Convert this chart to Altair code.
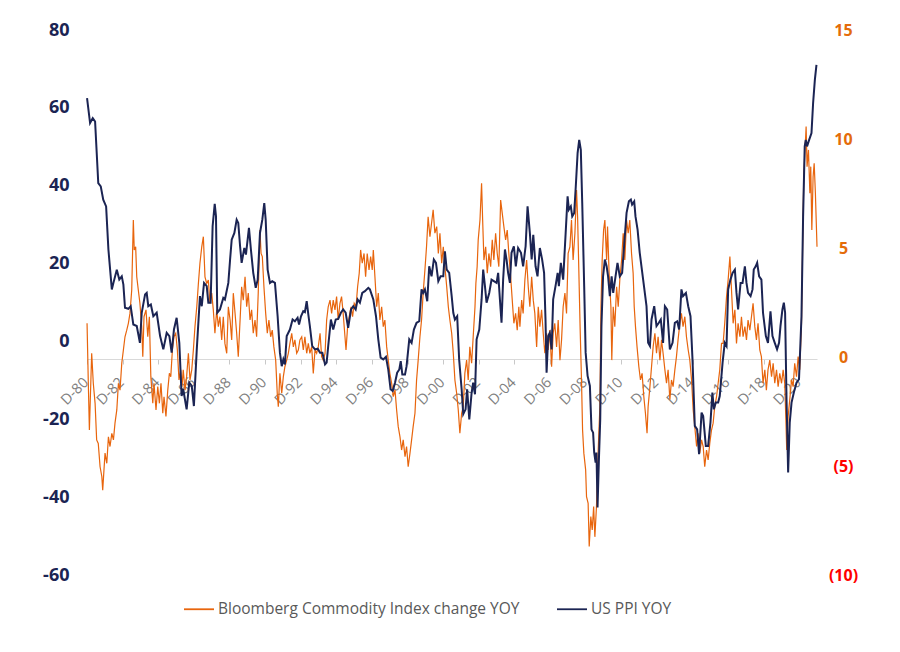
import altair as alt
import pandas as pd

SER_B = "Bloomberg Commodity Index change YOY"
SER_P = "US PPI YOY"
ORANGE = "#E8650D"
NAVY = "#1B2453"

# (decimal year, Bloomberg Commodity Index YoY %) - left axis
bcom_points = [
(1980.92,4.65),(1980.99,-10.75),(1981.05,-22.75),(1981.18,-3.05),(1981.27,-10.75),(1981.37,-15.9),(1981.46,-25.3),(1981.55,-26.2),(1981.65,-32.2),(1981.75,-34.7),(1981.80,-38.2),(1981.87,-33.0),(1981.93,-28.7),
(1982.03,-31.3),(1982.12,-24.5),(1982.21,-27.0),(1982.31,-23.6),(1982.40,-25.3),(1982.49,-21.0),(1982.59,-17.6),(1982.68,-10.75),(1982.77,-12.5),(1982.87,-5.6),(1982.96,-2.2),
(1983.05,1.2),(1983.15,2.9),(1983.24,4.65),(1983.33,7.2),(1983.43,13.2),(1983.52,31.2),(1983.57,23.5),(1983.65,24.3),(1983.71,16.6),(1983.80,13.2),(1983.89,9.8),(1983.99,3.8),
(1984.05,-3.9),(1984.12,6.35),(1984.23,8.1),(1984.33,1.2),(1984.42,6.35),(1984.50,-9.05),(1984.61,-15.9),(1984.68,-10.75),(1984.79,-17.6),(1984.89,-11.6),(1984.98,-15.9),
(1985.07,-10.75),(1985.17,-18.45),(1985.24,-14.2),(1985.35,-19.3),(1985.45,-12.5),(1985.54,-8.2),(1985.62,-9.05),(1985.71,-2.2),(1985.80,1.2),(1985.90,2.1),(1985.99,-2.2),
(1986.08,-9.9),(1986.18,-7.3),(1986.25,-11.6),(1986.32,-7.3),(1986.42,-12.5),(1986.51,-9.05),(1986.61,-3.05),(1986.70,-9.9),(1986.80,-7.3),(1986.89,-2.2),(1986.98,3.8),
(1987.08,8.9),(1987.17,14.9),(1987.26,20.1),(1987.36,24.3),(1987.45,26.9),(1987.54,16.6),(1987.64,14.9),(1987.73,15.8),(1987.82,9.8),(1987.92,12.4),
(1988.01,8.1),(1988.10,2.1),(1988.20,8.1),(1988.29,3.8),(1988.38,6.35),(1988.48,0.4),(1988.57,6.35),(1988.66,-0.5),(1988.76,-3.05),(1988.85,8.9),(1988.95,5.5),
(1989.04,0.4),(1989.13,12.4),(1989.23,7.2),(1989.32,2.1),(1989.41,-3.9),(1989.51,5.5),(1989.60,14.05),(1989.69,10.6),(1989.79,16.6),(1989.88,8.9),(1989.97,12.4),
(1990.07,5.5),(1990.16,8.1),(1990.25,2.1),(1990.35,5.5),(1990.44,1.2),(1990.53,12.4),(1990.63,28.6),(1990.69,22.6),(1990.76,21.8),(1990.85,14.05),(1990.95,7.2),
(1991.04,2.1),(1991.13,5.5),(1991.23,1.2),(1991.32,2.9),(1991.41,-1.4),(1991.51,-4.8),(1991.60,-13.3),(1991.66,-16.75),(1991.75,-8.2),(1991.85,-13.3),(1991.94,-9.05),
(1992.03,-6.5),(1992.13,-4.8),(1992.22,-3.05),(1992.31,-0.5),(1992.41,2.1),(1992.50,-1.4),(1992.59,0.4),(1992.69,-3.05),(1992.78,-2.2),(1992.87,0.4),(1992.97,1.2),
(1993.06,-2.2),(1993.15,1.2),(1993.25,-3.05),(1993.34,-0.5),(1993.43,-3.05),(1993.53,-1.4),(1993.62,-8.2),(1993.72,-2.2),(1993.81,-3.05),(1993.90,-1.4),
(1994.00,2.1),(1994.09,-3.9),(1994.18,-4.8),(1994.28,-3.05),(1994.37,5.5),(1994.46,8.9),(1994.56,10.6),(1994.65,7.2),(1994.74,10.6),(1994.84,8.1),(1994.93,11.5),
(1995.02,5.5),(1995.12,9.8),(1995.21,11.5),(1995.30,7.2),(1995.40,1.2),(1995.46,-2.2),(1995.55,3.8),(1995.64,6.35),(1995.74,8.9),(1995.83,6.35),(1995.92,9.8),
(1996.02,8.9),(1996.11,14.05),(1996.20,17.5),(1996.28,23.5),(1996.37,20.1),(1996.47,22.6),(1996.56,16.6),(1996.65,22.6),(1996.75,18.35),(1996.84,21.8),(1996.93,18.35),(1996.99,23.5),
(1997.08,16.6),(1997.18,8.9),(1997.27,12.4),(1997.36,5.5),(1997.46,8.9),(1997.55,3.8),(1997.64,5.5),(1997.74,-1.4),(1997.83,-4.8),(1997.92,-8.2),
(1998.02,-10.75),(1998.11,-14.2),(1998.21,-12.5),(1998.30,-17.6),(1998.39,-21.9),(1998.49,-24.5),(1998.58,-27.9),(1998.67,-25.3),(1998.77,-29.6),(1998.86,-27.0),(1998.95,-32.2),
(1999.05,-28.7),(1999.14,-25.3),(1999.23,-21.9),(1999.33,-18.45),(1999.42,-9.9),(1999.51,-4.8),(1999.61,1.2),(1999.70,5.5),(1999.79,12.4),(1999.89,18.35),(1999.98,24.3),
(2000.07,32.0),(2000.17,26.9),(2000.26,30.35),(2000.35,33.8),(2000.45,27.8),(2000.55,29.5),(2000.64,22.6),(2000.73,27.8),(2000.83,20.1),(2000.92,24.3),
(2001.01,19.2),(2001.11,14.05),(2001.20,8.9),(2001.29,5.5),(2001.39,2.1),(2001.48,-3.05),(2001.57,-9.9),(2001.67,-13.3),(2001.76,-17.6),(2001.85,-23.6),(2001.95,-18.45),
(2002.04,-16.75),(2002.13,-8.2),(2002.23,-4.8),(2002.32,-9.9),(2002.41,-1.4),(2002.51,-5.6),(2002.60,1.2),(2002.70,8.9),(2002.75,14.9),(2002.82,19.2),(2002.88,26.1),(2002.98,31.2),
(2003.07,40.6),(2003.13,31.2),(2003.20,20.9),(2003.30,24.3),(2003.39,17.5),(2003.48,22.6),(2003.58,19.2),(2003.67,26.1),(2003.76,20.9),(2003.86,27.8),(2003.95,22.6),
(2004.04,19.2),(2004.14,36.3),(2004.23,32.9),(2004.32,29.5),(2004.42,26.1),(2004.51,28.6),(2004.60,22.6),(2004.70,16.6),(2004.79,10.6),(2004.88,4.65),(2004.98,7.2),
(2005.07,2.9),(2005.16,8.9),(2005.22,3.8),(2005.32,10.6),(2005.40,7.2),(2005.50,15.8),(2005.60,20.9),(2005.69,14.05),(2005.78,8.9),(2005.88,16.6),(2005.97,10.6),
(2006.06,7.2),(2006.16,-1.4),(2006.25,8.9),(2006.34,3.8),(2006.44,8.1),(2006.53,2.1),(2006.62,-3.05),(2006.72,2.1),(2006.81,-2.2),(2006.90,2.9),
(2007.00,-6.5),(2007.09,2.1),(2007.18,4.65),(2007.28,-1.4),(2007.37,5.5),(2007.47,-4.8),(2007.56,0.4),(2007.65,8.9),(2007.75,12.4),(2007.84,7.2),(2007.93,22.6),
(2008.03,24.3),(2008.12,31.2),(2008.21,20.9),(2008.31,27.8),(2008.40,38.9),(2008.46,32.0),(2008.53,18.35),(2008.60,3.8),(2008.68,-9.9),(2008.74,-22.75),(2008.81,-28.7),(2008.91,-33.0),(2008.96,-39.9),
(2009.05,-41.6),(2009.11,-52.7),(2009.20,-45.0),(2009.28,-48.4),(2009.36,-42.4),(2009.43,-50.2),(2009.52,-42.4),(2009.61,-28.7),(2009.71,-16.75),(2009.77,8.9),(2009.84,20.9),(2009.92,28.6),(2009.99,31.2),
(2010.09,20.9),(2010.14,29.5),(2010.23,17.5),(2010.33,8.9),(2010.38,-4.8),(2010.46,8.9),(2010.55,3.8),(2010.65,14.05),(2010.74,8.9),(2010.83,15.8),(2010.93,20.9),
(2011.02,27.8),(2011.11,20.9),(2011.21,31.2),(2011.30,27.8),(2011.39,31.2),(2011.49,22.6),(2011.58,17.5),(2011.64,8.9),(2011.71,3.8),(2011.80,-1.4),(2011.90,-6.5),(2011.99,-9.9),
(2012.08,-8.2),(2012.18,-14.2),(2012.27,-18.45),(2012.36,-23.6),(2012.42,-16.75),(2012.52,-11.6),(2012.61,-6.5),(2012.70,-1.4),(2012.80,2.1),(2012.89,-3.05),(2012.98,1.2),
(2013.08,-4.8),(2013.17,0.4),(2013.26,-3.05),(2013.36,-7.3),(2013.45,-10.75),(2013.54,-7.3),(2013.64,-15.0),(2013.73,-9.9),(2013.82,-11.6),(2013.92,-7.3),
(2014.01,-3.9),(2014.10,0.4),(2014.20,4.65),(2014.29,7.2),(2014.38,3.8),(2014.48,6.35),(2014.57,1.2),(2014.67,-2.2),(2014.76,-4.8),(2014.86,-9.9),(2014.95,-17.6),
(2015.04,-21.9),(2015.14,-27.0),(2015.23,-23.6),(2015.32,-28.7),(2015.42,-25.3),(2015.51,-27.0),(2015.60,-32.2),(2015.70,-27.9),(2015.79,-30.45),(2015.88,-26.2),(2015.98,-22.75),
(2016.07,-21.0),(2016.16,-16.75),(2016.26,-14.2),(2016.35,-10.75),(2016.44,-7.3),(2016.54,-0.5),(2016.63,-0.5),(2016.72,4.65),(2016.82,11.5),(2016.91,15.8),
(2017.01,21.8),(2017.10,13.2),(2017.19,4.65),(2017.29,8.1),(2017.38,-0.5),(2017.47,4.65),(2017.57,1.2),(2017.66,6.35),(2017.75,1.2),(2017.85,3.8),(2017.94,0.4),
(2018.03,5.5),(2018.13,2.9),(2018.22,6.35),(2018.31,9.8),(2018.41,3.8),(2018.50,0.4),(2018.59,4.65),(2018.69,-2.2),(2018.78,-3.9),(2018.87,-10.75),(2018.97,-7.3),
(2019.06,-12.5),(2019.15,-7.3),(2019.25,-4.8),(2019.35,-9.05),(2019.44,-5.6),(2019.53,-10.75),(2019.63,-7.3),(2019.72,-11.6),(2019.81,-8.2),(2019.91,-10.75),
(2020.00,-7.3),(2020.09,-10.75),(2020.15,-19.3),(2020.20,-27.9),(2020.28,-19.3),(2020.37,-15.0),(2020.47,-9.9),(2020.56,-11.6),(2020.65,-5.6),(2020.75,-9.05),(2020.84,-3.9),(2020.93,-7.3),
(2021.03,4.65),(2021.09,23.5),(2021.16,43.2),(2021.23,49.2),(2021.29,55.2),(2021.34,44.9),(2021.42,49.2),(2021.50,38.05),(2021.55,44.9),(2021.61,28.6),(2021.68,42.3),(2021.74,45.75),(2021.81,38.05),(2021.90,24.3),
]

# (decimal year, US PPI YoY %) - right axis
ppi_points = [
(1980.92,11.87),(1981.09,10.73),(1981.24,10.96),(1981.37,10.8),(1981.55,7.98),(1981.69,7.83),(1981.83,7.22),(1981.99,6.91),
(1982.12,4.93),(1982.31,3.1),(1982.40,3.4),(1982.59,4.0),(1982.73,3.55),(1982.87,3.7),(1982.96,3.32),
(1983.05,2.26),(1983.24,2.21),(1983.37,2.33),(1983.52,1.49),(1983.71,1.42),(1983.89,0.65),(1983.99,2.03),
(1984.18,2.87),(1984.27,2.94),(1984.36,2.33),(1984.50,2.41),(1984.64,1.87),(1984.83,2.03),
(1985.02,0.96),(1985.20,0.35),(1985.39,1.11),(1985.54,0.96),(1985.67,0.2),(1985.80,1.26),(1985.95,1.8),
(1986.10,0.65),(1986.23,-1.79),(1986.32,-1.48),(1986.51,-2.4),(1986.66,-1.18),(1986.80,-1.33),(1986.92,-2.25),
(1987.08,0.35),(1987.26,2.79),(1987.36,2.33),(1987.49,3.4),(1987.64,3.25),(1987.73,2.49),(1987.86,2.49),(1987.97,6.0),
(1988.09,7.03),(1988.16,6.45),(1988.23,2.03),(1988.38,2.18),(1988.57,2.71),(1988.66,2.64),(1988.85,3.4),(1988.95,4.47),
(1989.04,5.38),(1989.19,5.69),(1989.32,6.3),(1989.41,6.15),(1989.51,5.08),(1989.60,4.32),(1989.75,5.0),(1989.84,4.7),
(1990.01,5.92),(1990.12,4.93),(1990.25,3.86),(1990.39,3.17),(1990.50,3.55),(1990.63,5.69),(1990.76,6.3),(1990.87,7.06),(1990.95,6.3),
(1991.06,4.01),(1991.19,3.4),(1991.32,3.48),(1991.47,3.4),(1991.62,1.87),(1991.75,0.2),(1991.85,-0.42),(1991.94,-0.11),
(1992.03,-0.34),(1992.13,0.96),(1992.31,1.26),(1992.46,1.72),(1992.59,1.64),(1992.74,1.8),(1992.82,1.49),(1992.93,1.87),
(1993.06,2.1),(1993.15,2.06),(1993.25,2.56),(1993.34,1.95),(1993.43,1.42),(1993.56,0.5),(1993.72,0.35),(1993.87,0.38),
(1994.00,0.2),(1994.13,0.2),(1994.28,-0.34),(1994.37,-0.26),(1994.46,0.5),(1994.61,1.72),(1994.74,1.26),(1994.88,1.72),
(1995.02,1.75),(1995.17,2.03),(1995.30,2.18),(1995.44,2.03),(1995.58,1.34),(1995.74,2.18),(1995.87,2.33),
(1996.00,2.18),(1996.11,2.64),(1996.24,2.49),(1996.37,2.94),(1996.52,3.02),(1996.71,3.17),(1996.80,3.1),(1996.99,2.64),
(1997.14,1.87),(1997.27,0.81),(1997.40,-0.03),(1997.55,-0.11),(1997.70,0.01),(1997.83,-0.57),(1997.96,-1.48),
(1998.08,-1.56),(1998.21,-1.18),(1998.33,-0.72),(1998.45,-0.57),(1998.53,-0.19),(1998.62,-0.8),(1998.77,-0.8),(1998.86,-0.42),
(1999.01,0.81),(1999.14,0.65),(1999.27,1.26),(1999.42,1.57),(1999.57,1.64),(1999.70,3.1),(1999.79,2.94),(1999.89,3.1),
(2000.02,2.56),(2000.13,4.16),(2000.26,3.7),(2000.39,4.47),(2000.51,4.32),(2000.64,3.48),(2000.77,3.7),(2000.92,3.7),
(2001.01,4.85),(2001.11,4.01),(2001.25,3.86),(2001.39,2.79),(2001.48,2.03),(2001.57,1.72),(2001.70,1.87),(2001.81,-0.11),(2001.95,-1.48),
(2002.04,-2.62),(2002.17,-2.4),(2002.26,-1.48),(2002.38,-2.86),(2002.51,-1.63),(2002.60,-1.18),(2002.70,-1.71),(2002.79,0.81),(2002.94,1.26),
(2003.07,2.64),(2003.16,4.01),(2003.26,3.25),(2003.35,2.49),(2003.50,2.94),(2003.63,3.55),(2003.76,3.48),(2003.91,3.4),
(2004.00,3.86),(2004.10,2.64),(2004.19,1.57),(2004.28,3.55),(2004.38,4.93),(2004.47,4.47),(2004.56,3.86),(2004.66,3.4),(2004.75,4.78),(2004.88,5.08),(2004.99,4.16),
(2005.12,5.0),(2005.28,4.78),(2005.40,4.16),(2005.54,5.08),(2005.65,6.91),(2005.78,5.69),(2005.88,4.47),(2005.97,5.61),
(2006.10,4.16),(2006.21,3.7),(2006.34,5.0),(2006.47,4.47),(2006.58,3.86),(2006.66,1.72),(2006.72,-0.72),(2006.81,0.96),(2006.90,1.11),
(2007.00,0.35),(2007.09,2.64),(2007.22,3.25),(2007.34,3.86),(2007.41,3.25),(2007.52,4.32),(2007.65,3.55),(2007.79,5.69),(2007.90,7.37),(2007.97,6.76),
(2008.08,6.91),(2008.16,6.45),(2008.27,6.61),(2008.36,7.83),(2008.46,9.35),(2008.55,9.96),(2008.64,9.5),(2008.72,7.06),(2008.83,3.25),(2008.91,0.2),
(2009.02,-0.87),(2009.15,-1.33),(2009.24,-3.32),(2009.33,-3.47),(2009.39,-4.38),(2009.47,-4.84),(2009.52,-4.38),(2009.58,-6.9),(2009.65,-4.84),(2009.73,-2.86),(2009.80,1.42),(2009.89,3.7),(2009.99,4.47),
(2010.09,4.16),(2010.17,3.7),(2010.27,2.79),(2010.37,3.7),(2010.46,2.94),(2010.59,3.7),(2010.70,4.32),(2010.83,3.7),(2010.96,3.86),
(2011.07,5.08),(2011.21,6.61),(2011.34,7.14),(2011.45,7.22),(2011.52,6.99),(2011.64,7.14),(2011.71,6.45),(2011.83,5.84),(2011.95,4.78),
(2012.14,3.55),(2012.33,2.33),(2012.42,0.65),(2012.52,0.5),(2012.61,1.72),(2012.76,2.33),(2012.89,1.42),
(2013.02,1.57),(2013.13,1.72),(2013.26,0.65),(2013.36,2.33),(2013.49,2.18),(2013.64,0.35),(2013.79,0.65),(2013.92,1.57),
(2014.05,1.64),(2014.16,1.26),(2014.29,3.1),(2014.38,2.79),(2014.54,2.94),(2014.67,2.33),(2014.80,1.87),(2014.91,-0.11),
(2015.04,-3.16),(2015.17,-3.32),(2015.28,-4.46),(2015.42,-2.55),(2015.51,-2.71),(2015.66,-4.08),(2015.79,-4.08),(2015.92,-3.01),
(2016.03,-1.63),(2016.11,-2.4),(2016.22,-2.09),(2016.35,-2.09),(2016.44,-1.79),(2016.60,-0.26),(2016.72,0.65),(2016.82,0.5),(2016.91,3.1),
(2017.04,3.55),(2017.16,3.86),(2017.29,4.01),(2017.38,2.94),(2017.47,2.18),(2017.61,3.4),(2017.72,3.4),(2017.85,4.16),(2017.94,3.4),
(2018.03,2.94),(2018.17,2.79),(2018.28,3.1),(2018.35,4.01),(2018.46,4.16),(2018.54,4.32),(2018.65,3.7),(2018.78,3.55),(2018.87,2.03),
(2019.03,0.96),(2019.15,0.65),(2019.29,2.1),(2019.40,0.96),(2019.53,0.65),(2019.66,0.35),(2019.77,0.65),(2019.85,1.42),(2019.96,2.18),
(2020.04,2.49),(2020.11,2.03),(2020.19,-1.94),(2020.28,-5.3),(2020.37,-3.01),(2020.47,-2.09),(2020.60,-1.63),(2020.75,-1.18),(2020.89,-1.02),
(2021.03,1.87),(2021.12,6.45),(2021.21,9.66),(2021.27,9.96),(2021.34,9.66),(2021.46,9.96),(2021.59,10.27),(2021.68,11.64),(2021.78,12.71),(2021.87,13.4),
]

left_ticks = [-60, -40, -20, 0, 20, 40, 60, 80]
right_ticks = [-10, -5, 0, 5, 10, 15]
label_years = list(range(1980, 2021, 2))


def to_date(t):
    y = int(t)
    start = pd.Timestamp(year=y, month=1, day=1)
    end = pd.Timestamp(year=y + 1, month=1, day=1)
    return (start + (end - start) * (t - y)).floor("D")


bcom = pd.DataFrame({
    "date": [to_date(t) for t, _ in bcom_points],
    "value": [v for _, v in bcom_points],
    "series": SER_B,
})
ppi = pd.DataFrame({
    "date": [to_date(t) for t, _ in ppi_points],
    "value": [v for _, v in ppi_points],
    "series": SER_P,
})

FONT = "Open Sans"

x_enc = alt.X(
    "date:T",
    title=None,
    scale=alt.Scale(domain=[alt.DateTime(year=1980, month=12, date=1),
                            alt.DateTime(year=2021, month=11, date=25)]),
    axis=alt.Axis(
        values=[alt.DateTime(year=y, month=12, date=1) for y in label_years],
        labelExpr="'D-' + timeFormat(datum.value, '%y')",
        labelAngle=-45,
        labelAlign="right",
        labelBaseline="top",
        labelFont=FONT,
        labelFontSize=14.5,
        labelColor="#808080",
        labelPadding=11,
        labelOffset=-6,
        offset=-216,
        domainColor="#d9d9d9",
        domainWidth=1,
        tickColor="#c8c8c8",
        tickSize=5,
        grid=False,
        labelOverlap=False,
    ),
)

color_enc = alt.Color(
    "series:N",
    scale=alt.Scale(domain=[SER_B, SER_P], range=[ORANGE, NAVY]),
    legend=alt.Legend(
        title=None,
        orient="none",
        legendX=96,
        legendY=563,
        direction="horizontal",
        symbolType="stroke",
        symbolSize=900,
        symbolStrokeWidth=1.8,
        labelFont=FONT,
        labelFontSize=15.5,
        labelColor="#595959",
        labelOffset=3,
        labelLimit=0,
        columnPadding=33,
        padding=0,
    ),
)

bcom_line = alt.Chart(bcom).mark_line(strokeWidth=1.2, interpolate="linear").encode(
    x=x_enc,
    y=alt.Y(
        "value:Q",
        title=None,
        scale=alt.Scale(domain=[-60, 80], nice=False, zero=False),
        axis=alt.Axis(
            orient="left",
            values=left_ticks,
            domain=False,
            ticks=False,
            grid=False,
            labelFont=FONT,
            labelFontSize=18,
            labelFontWeight="bold",
            labelColor=NAVY,
            labelPadding=18,
            labelExpr="datum.value < 0 ? '-' + format(-datum.value, 'd') : format(datum.value, 'd')",
        ),
    ),
    color=color_enc,
)

ppi_line = alt.Chart(ppi).mark_line(strokeWidth=2.0, interpolate="linear").encode(
    x=x_enc,
    y=alt.Y(
        "value:Q",
        title=None,
        scale=alt.Scale(domain=[-10, 15], nice=False, zero=False),
        axis=alt.Axis(
            orient="right",
            values=right_ticks,
            domain=False,
            ticks=False,
            grid=False,
            labelFont=FONT,
            labelFontSize=16,
            labelFontWeight="bold",
            labelAlign="center",
            labelPadding=26,
            labelExpr="datum.value < 0 ? '(' + format(-datum.value, 'd') + ')' : format(datum.value, 'd')",
            labelColor={"condition": {"test": "datum.value < 0", "value": "#FF0000"}, "value": "#E46C0A"},
        ),
    ),
    color=color_enc,
)

chart = (
    alt.layer(bcom_line, ppi_line)
    .resolve_scale(y="independent")
    .properties(
        width=730,
        height=545,
        background="white",
        autosize=alt.AutoSizeParams(type="none"),
        padding={"left": 79, "top": 22, "right": 75, "bottom": 69},
    )
    .configure_view(stroke=None)
)

chart.save("out.html", embed_options={"renderer": "svg", "actions": False})
